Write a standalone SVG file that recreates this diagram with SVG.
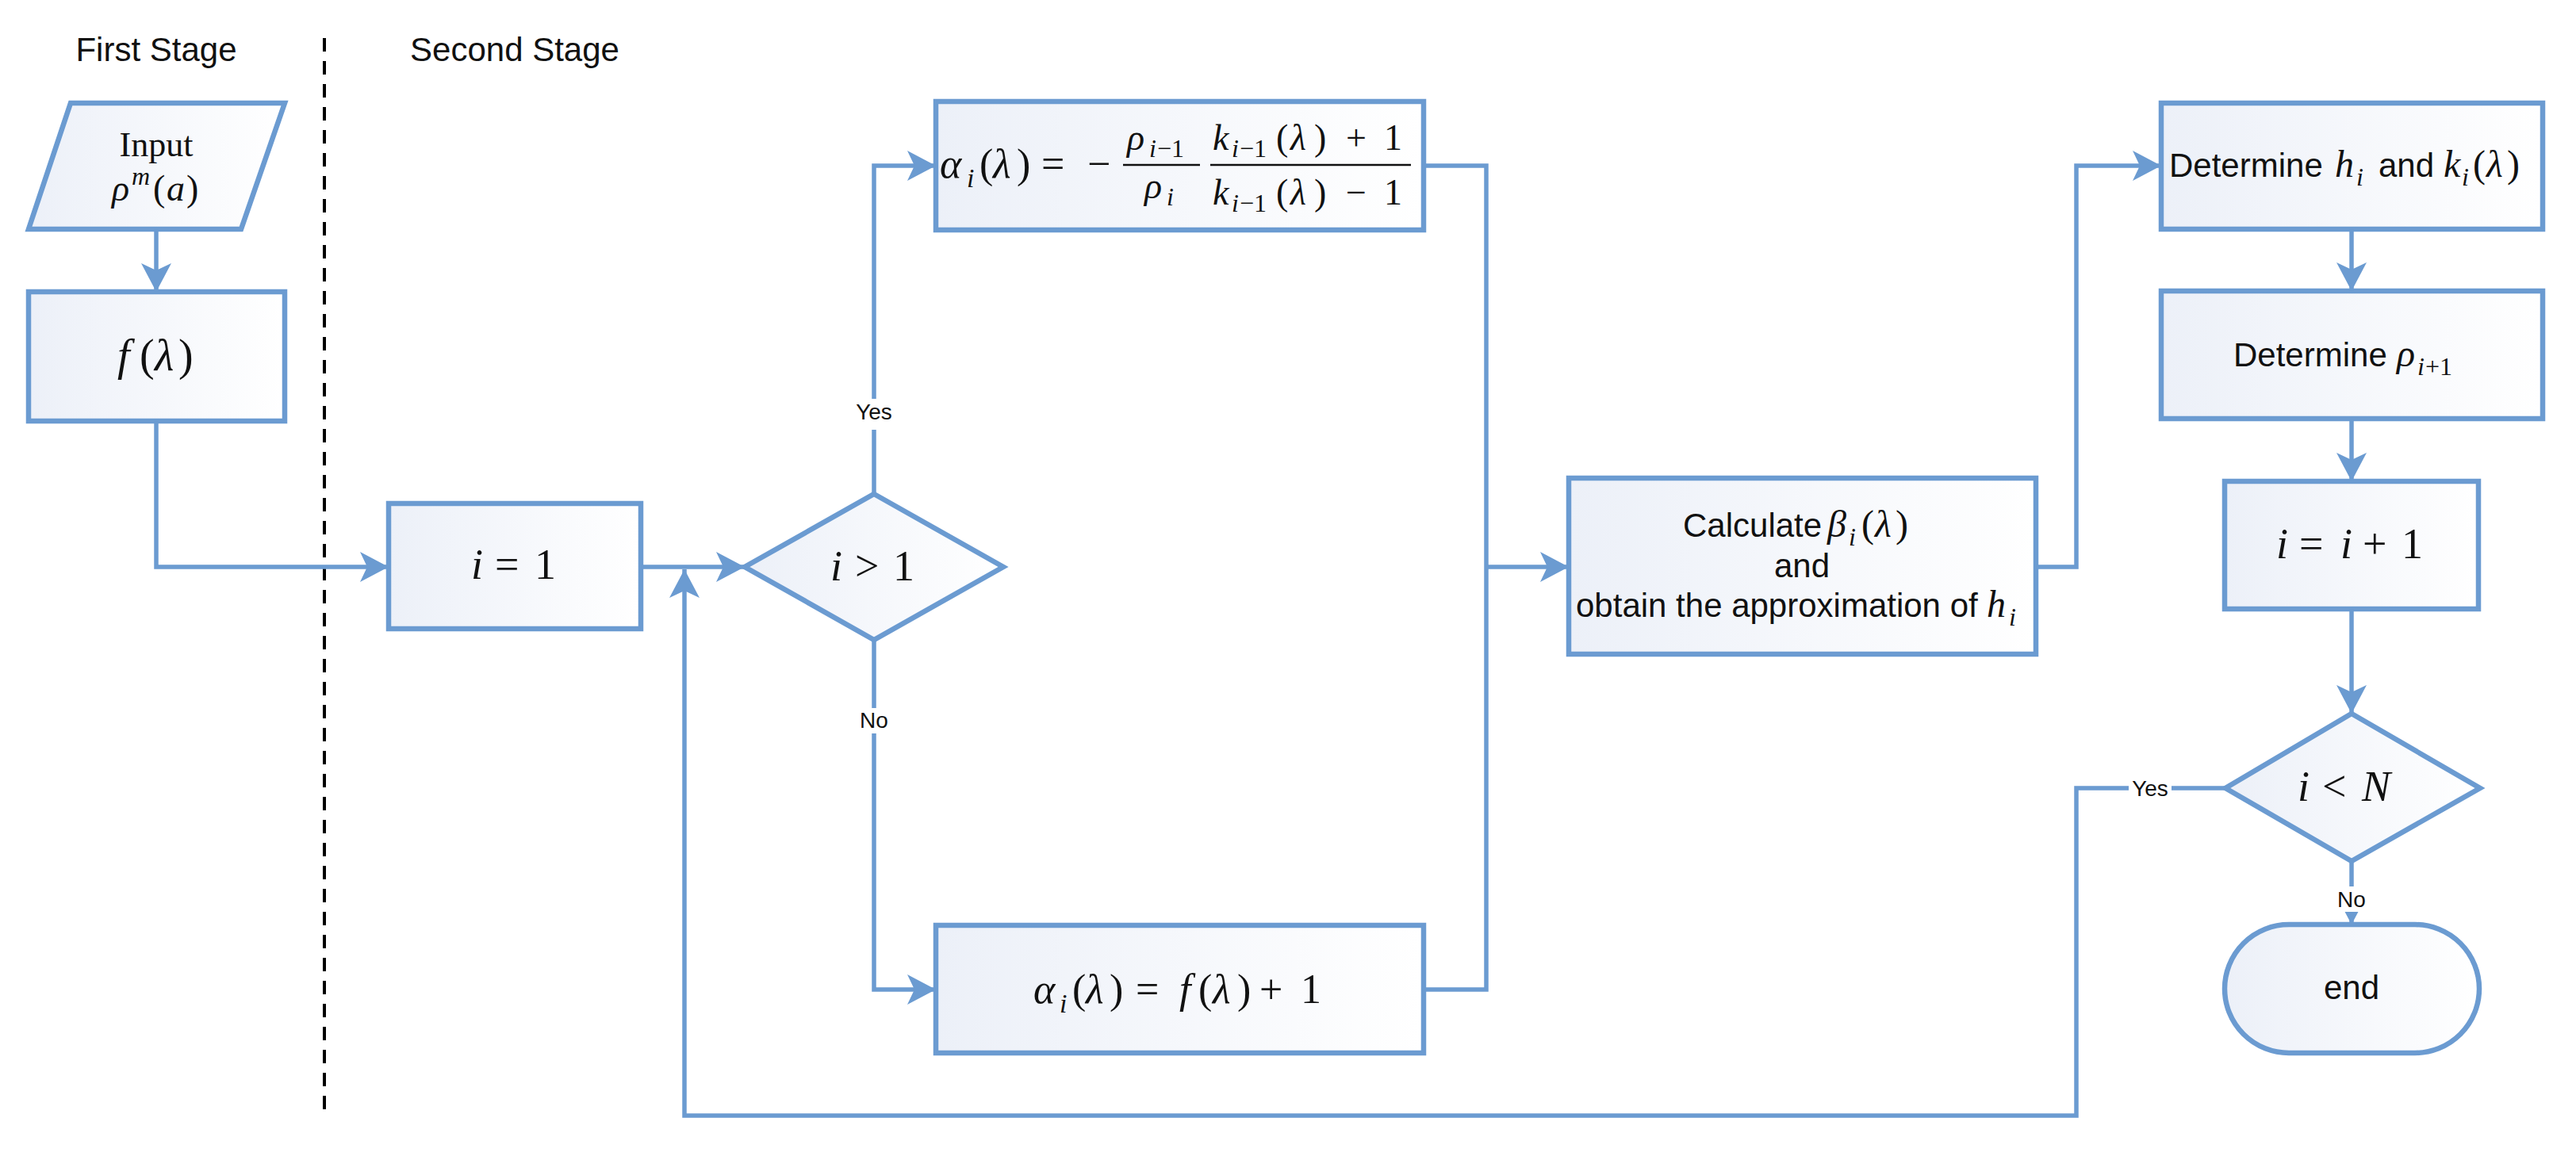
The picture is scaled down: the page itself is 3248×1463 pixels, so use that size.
<svg xmlns="http://www.w3.org/2000/svg" width="3248" height="1463" viewBox="0 0 3248 1463">
<defs>
<linearGradient id="g" x1="0" y1="0" x2="1" y2="0">
<stop offset="0" stop-color="#ECF0F8"/>
<stop offset="1" stop-color="#FFFFFF"/>
</linearGradient>
<marker id="arr" markerUnits="userSpaceOnUse" markerWidth="40" markerHeight="40" refX="36" refY="19" orient="auto" viewBox="0 0 40 40">
<path d="M0,0 L36,19 L0,38 L9,19 Z" fill="#6B9BD1"/>
</marker>
<style>
.box{fill:url(#g);stroke:#6B9BD1;stroke-width:6.5}
.con{fill:none;stroke:#6B9BD1;stroke-width:5.5}
.sans{font-family:"Liberation Sans",Arial,sans-serif;fill:#111}
.m{font-family:"Liberation Serif","DejaVu Serif",serif;fill:#111}
.it{font-style:italic}
.lbl{font-family:"Liberation Sans",Arial,sans-serif;font-size:28px;fill:#111}
.bg{fill:#FFFFFF}
</style>
</defs>
<rect width="3248" height="1463" fill="#FFFFFF"/>

<g id="titles">
<text class="sans" x="197" y="77" font-size="42" text-anchor="middle">First Stage</text>
<text class="sans" x="649" y="77" font-size="42" text-anchor="middle">Second Stage</text>
<line x1="409" y1="48" x2="409" y2="1404" stroke="#000" stroke-width="4" stroke-dasharray="17 12"/>
</g>

<g id="connectors">
<path class="con" d="M197,289 V368" marker-end="url(#arr)"/>
<path class="con" d="M197,531 V715 H490" marker-end="url(#arr)"/>
<path class="con" d="M808,715 H939" marker-end="url(#arr)"/>
<path class="con" d="M2806,994 H2618 V1407 H863 V718" marker-end="url(#arr)"/>
<path class="con" d="M1102,623 V209 H1180" marker-end="url(#arr)"/>
<path class="con" d="M1102,807 V1248 H1180" marker-end="url(#arr)"/>
<path class="con" d="M1795,209 H1874 V715"/>
<path class="con" d="M1795,1248 H1874 V715"/>
<path class="con" d="M1874,715 H1978" marker-end="url(#arr)"/>
<path class="con" d="M2567,715 H2618 V209 H2725" marker-end="url(#arr)"/>
<path class="con" d="M2965,289 V367" marker-end="url(#arr)"/>
<path class="con" d="M2965,528 V607" marker-end="url(#arr)"/>
<path class="con" d="M2965,768 V900" marker-end="url(#arr)"/>
<path class="con" d="M2965,1086 V1166" marker-end="url(#arr)"/>
<rect class="bg" x="1074" y="503" width="56" height="39"/>
<text class="lbl" x="1102" y="529" text-anchor="middle">Yes</text>
<rect class="bg" x="1080" y="893" width="44" height="32"/>
<text class="lbl" x="1102" y="918" text-anchor="middle">No</text>
<rect class="bg" x="2684" y="978" width="54" height="34"/>
<text class="lbl" x="2711" y="1004" text-anchor="middle">Yes</text>
<rect class="bg" x="2944" y="1118" width="42" height="32"/>
<text class="lbl" x="2965" y="1144" text-anchor="middle">No</text>
</g>

<g id="input">
<polygon class="box" points="89,130 359,130 304,289 36,289"/>
<text class="m" x="197" y="197" font-size="44" text-anchor="middle">Input</text>
<text class="m" font-size="46" y="253"><tspan class="it" x="141">ρ</tspan><tspan class="it" x="166" y="233" font-size="32">m</tspan><tspan x="193" y="253">(</tspan><tspan class="it" x="210">a</tspan><tspan x="235">)</tspan></text>
</g>

<g id="f-lambda">
<rect class="box" x="36" y="368" width="323" height="163"/>
<text class="m" font-size="56" y="467"><tspan class="it" x="148">f</tspan><tspan x="176">(</tspan><tspan class="it" x="195">λ</tspan><tspan x="225">)</tspan></text>
</g>

<g id="i-eq-1">
<rect class="box" x="490" y="635" width="318" height="158"/>
<text class="m" font-size="54" y="730"><tspan class="it" x="594">i</tspan><tspan x="624">=</tspan><tspan x="674">1</tspan></text>
</g>

<g id="dec-i-gt-1">
<polygon class="box" points="1102,623 1265,715 1102,807 939,715"/>
<text class="m" font-size="54" y="732"><tspan class="it" x="1047">i</tspan><tspan x="1078">&gt;</tspan><tspan x="1126">1</tspan></text>
</g>

<g id="alpha-frac">
<rect class="box" x="1180" y="128" width="615" height="162"/>
<text class="m" font-size="52" y="224"><tspan class="it" x="1185">α</tspan><tspan class="it" x="1219" y="236" font-size="34">i</tspan><tspan x="1235" y="224">(</tspan><tspan class="it" x="1252">λ</tspan><tspan x="1282">)</tspan><tspan x="1313">=</tspan><tspan x="1371">−</tspan></text>
<line x1="1416" y1="208" x2="1513" y2="208" stroke="#111" stroke-width="2.5"/>
<line x1="1526" y1="208" x2="1779" y2="208" stroke="#111" stroke-width="2.5"/>
<text class="m" font-size="46" y="189"><tspan class="it" x="1421">ρ</tspan><tspan class="it" x="1449" y="198" font-size="32">i</tspan><tspan x="1459" font-size="32">−1</tspan></text>
<text class="m" font-size="46" y="250"><tspan class="it" x="1443">ρ</tspan><tspan class="it" x="1471" y="259" font-size="32">i</tspan></text>
<text class="m" font-size="46" y="189"><tspan class="it" x="1529">k</tspan><tspan class="it" x="1553" y="198" font-size="32">i</tspan><tspan x="1563" font-size="32">−1</tspan><tspan x="1609" y="189">(</tspan><tspan class="it" x="1627">λ</tspan><tspan x="1657">)</tspan><tspan x="1697">+</tspan><tspan x="1745">1</tspan></text>
<text class="m" font-size="46" y="258"><tspan class="it" x="1529">k</tspan><tspan class="it" x="1553" y="267" font-size="32">i</tspan><tspan x="1563" font-size="32">−1</tspan><tspan x="1609" y="258">(</tspan><tspan class="it" x="1627">λ</tspan><tspan x="1657">)</tspan><tspan x="1697">−</tspan><tspan x="1745">1</tspan></text>
</g>

<g id="alpha-f">
<rect class="box" x="1180" y="1167" width="615" height="161"/>
<text class="m" font-size="52" y="1265"><tspan class="it" x="1303">α</tspan><tspan class="it" x="1336" y="1277" font-size="34">i</tspan><tspan x="1352" y="1265">(</tspan><tspan class="it" x="1369">λ</tspan><tspan x="1399">)</tspan><tspan x="1432">=</tspan><tspan class="it" x="1487">f</tspan><tspan x="1511">(</tspan><tspan class="it" x="1529">λ</tspan><tspan x="1560">)</tspan><tspan x="1588">+</tspan><tspan x="1640">1</tspan></text>
</g>

<g id="calculate">
<rect class="box" x="1978" y="603" width="589" height="222"/>
<text class="sans" font-size="42" x="2122" y="677">Calculate</text>
<text class="m" font-size="48" y="677"><tspan class="it" x="2304">β</tspan><tspan class="it" x="2331" y="688" font-size="32">i</tspan><tspan x="2347" y="677">(</tspan><tspan class="it" x="2364">λ</tspan><tspan x="2390">)</tspan></text>
<text class="sans" font-size="42" x="2272" y="728" text-anchor="middle">and</text>
<text class="sans" font-size="42" x="1987" y="778">obtain the approximation of</text>
<text class="m" font-size="48" y="778"><tspan class="it" x="2505">h</tspan><tspan class="it" x="2533" y="789" font-size="32">i</tspan></text>
</g>

<g id="determine-h-k">
<rect class="box" x="2725" y="130" width="481" height="159"/>
<text class="sans" font-size="42" x="2735" y="223">Determine</text>
<text class="m" font-size="48" y="223"><tspan class="it" x="2944">h</tspan><tspan class="it" x="2971" y="234" font-size="32">i</tspan></text>
<text class="sans" font-size="42" x="2999" y="223">and</text>
<text class="m" font-size="48" y="223"><tspan class="it" x="3081">k</tspan><tspan class="it" x="3104" y="234" font-size="32">i</tspan><tspan x="3118" y="223">(</tspan><tspan class="it" x="3135">λ</tspan><tspan x="3161">)</tspan></text>
</g>

<g id="determine-rho">
<rect class="box" x="2725" y="367" width="481" height="161"/>
<text class="sans" font-size="42" x="2816" y="462">Determine</text>
<text class="m" font-size="48" y="462"><tspan class="it" x="3022">ρ</tspan><tspan class="it" x="3048" y="473" font-size="32">i</tspan><tspan x="3058" font-size="32">+1</tspan></text>
</g>

<g id="i-incr">
<rect class="box" x="2805" y="607" width="320" height="161"/>
<text class="m" font-size="54" y="704"><tspan class="it" x="2870">i</tspan><tspan x="2899">=</tspan><tspan class="it" x="2951">i</tspan><tspan x="2979">+</tspan><tspan x="3028">1</tspan></text>
</g>

<g id="dec-i-lt-N">
<polygon class="box" points="2965,900 3127,994 2965,1086 2806,994"/>
<text class="m" font-size="54" y="1010"><tspan class="it" x="2897">i</tspan><tspan x="2928">&lt;</tspan><tspan class="it" x="2978">N</tspan></text>
</g>

<g id="end">
<rect class="box" x="2805" y="1166" width="321" height="162" rx="81" ry="81"/>
<text class="sans" font-size="42" x="2965" y="1260" text-anchor="middle">end</text>
</g>
</svg>
